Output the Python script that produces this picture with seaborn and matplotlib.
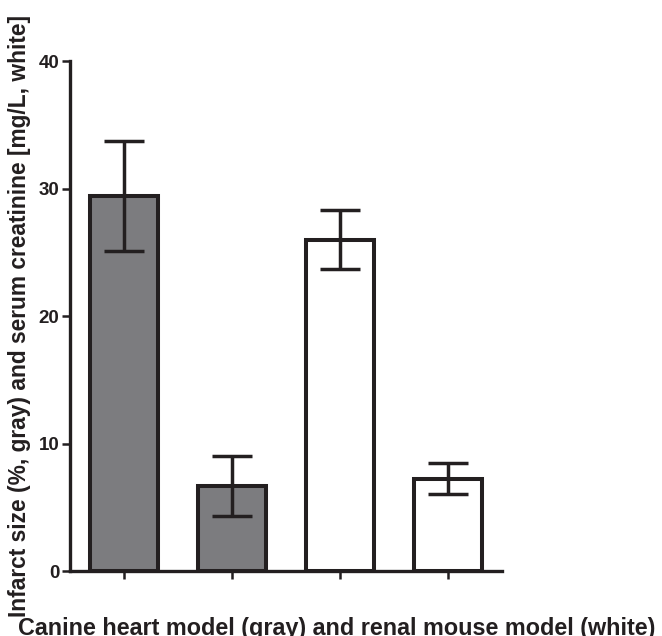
import matplotlib
matplotlib.use("Agg")
import matplotlib.pyplot as plt
import seaborn as sns
import pandas as pd

# Group means and standard deviations
groups = ["Heart control", "Heart treated", "Renal control", "Renal treated"]
means = [29.4, 6.7, 26.0, 7.25]
errors = [4.3, 2.35, 2.3, 1.2]
fill_colors = ["#7b7c80", "#7b7c80", "#ffffff", "#ffffff"]
y_ticks = [0, 10, 20, 30, 40]

sns.set_theme(style="ticks")
plt.rcParams["font.family"] = ["Liberation Sans", "DejaVu Sans"]
plt.rcParams["font.weight"] = "bold"

ink = "#231f20"
df = pd.DataFrame({"group": groups, "mean": means})

fig = plt.figure(figsize=(6.62, 6.36), dpi=100)
ax = fig.add_axes([0.1057, 0.102, 0.6525, 0.802])

sns.barplot(data=df, x="group", y="mean", hue="group", palette=fill_colors,
            legend=False, width=0.63, edgecolor=ink, linewidth=2.9,
            errorbar=None, ax=ax)

ax.errorbar(range(len(groups)), means, yerr=errors, fmt="none",
            ecolor=ink, elinewidth=2.5, capsize=14.5, capthick=2.5,
            zorder=5)

ax.set_xlim(-0.5, 3.5)
ax.set_ylim(0, 40)
ax.set_yticks(y_ticks)
ax.set_yticklabels([str(t) for t in y_ticks], fontsize=13.5,
                   fontweight="bold", color=ink)
ax.set_xticks(range(len(groups)))
ax.set_xticklabels([])

sns.despine(ax=ax)
for side in ["left", "bottom"]:
    ax.spines[side].set_linewidth(2.4)
    ax.spines[side].set_color(ink)
ax.tick_params(axis="both", direction="out", length=6, width=1.8,
               color=ink, pad=1.5)

ax.set_xlabel("Canine heart model (gray) and renal mouse model (white)",
              fontsize=16.8, fontweight="bold", color=ink)
ax.set_ylabel("Infarct size (%, gray) and serum creatinine [mg/L, white]",
              fontsize=16.4, fontweight="bold", color=ink)
ax.xaxis.set_label_coords(0.618, -0.089)
ax.yaxis.set_label_coords(-0.091, 0.50)

fig.savefig("out.png", dpi=100)
